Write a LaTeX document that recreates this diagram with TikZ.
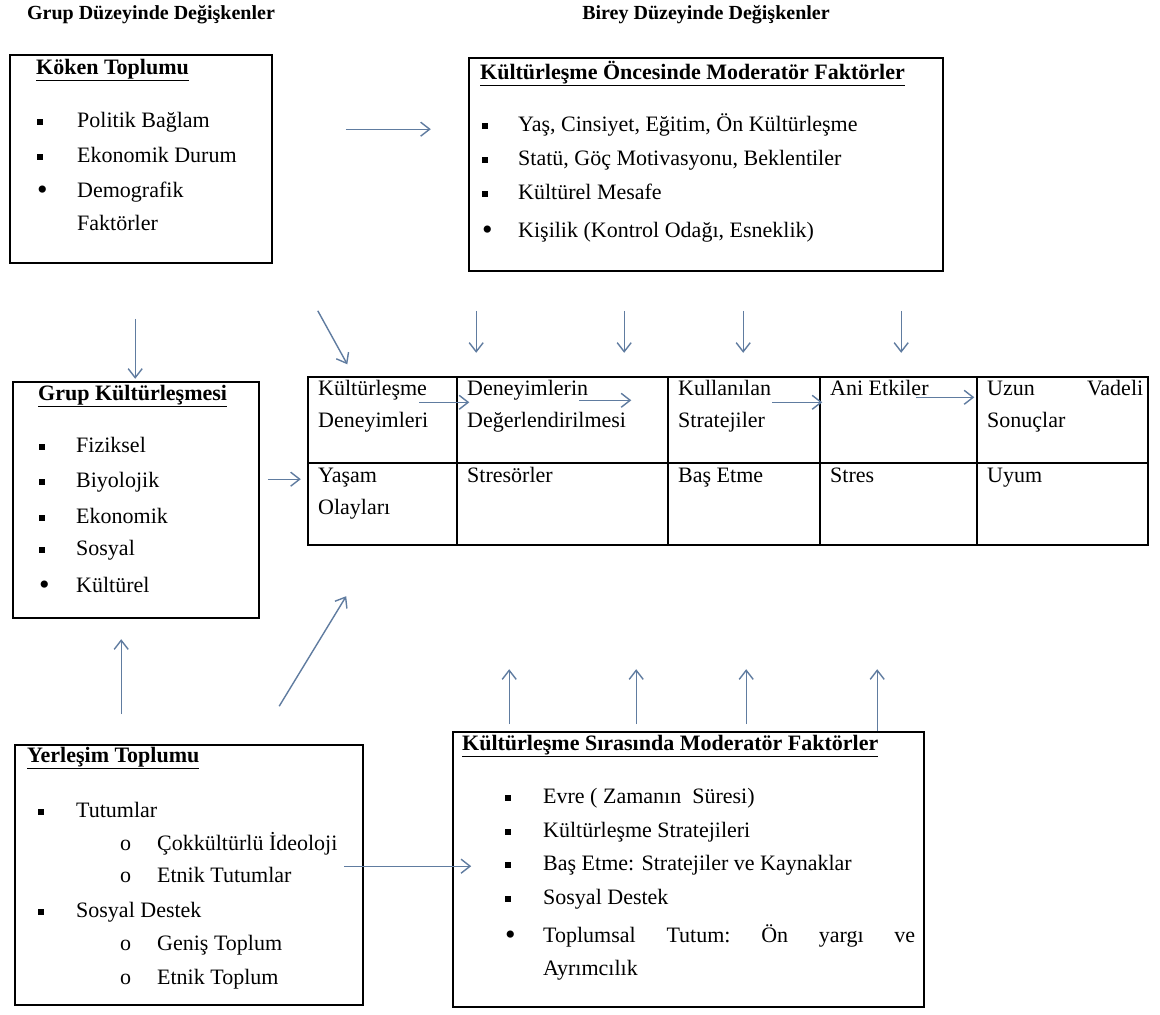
\documentclass[tikz,border=0pt]{standalone}
\usepackage{fontspec}
\setmainfont{Liberation Serif}
\usetikzlibrary{arrows.meta, positioning, calc, fit}
\definecolor{arrowblue}{RGB}{96,124,160}
\newcommand{\bodyfont}{\fontsize{22pt}{26pt}\selectfont}
\newcommand{\headfont}{\fontsize{20pt}{24pt}\selectfont}
\newcommand{\sqb}{\rule[2pt]{6pt}{6pt}}
\newcommand{\rdb}{\raisebox{-2.5pt}{\fontsize{30pt}{30pt}\selectfont •}}
\newcommand{\bl}[2]{\makebox[#1][l]{#2}}

\begin{document}
\begin{tikzpicture}[
        x=1pt, y=-1pt,
        frame/.style={draw, line width=1.6pt, inner sep=0pt},
        cell/.style={draw, line width=1.4pt, inner sep=0pt},
        head/.style={inner sep=0pt, font=\headfont\bfseries},
        title/.style={anchor=mid west, inner sep=0pt, yshift=-5pt, font=\bodyfont\bfseries},
        item/.style={anchor=mid west, inner sep=0pt, yshift=-5pt, font=\bodyfont},
        arr/.style={arrowblue, line width=1.4pt, -{Straight Barb[length=9pt, width=14pt]}}
    ]
        \fill[white] (0,0) rectangle (1160,1015);
        \useasboundingbox (0,0) rectangle (1160,1015);

        % column headings
        \node[head] (grupbaslik) at (151,15) {Grup Düzeyinde Değişkenler};
        \node[head] (bireybaslik) at (706,15) {Birey Düzeyinde Değişkenler};

        % Köken Toplumu
        \node[frame, fit={(10,55) (272,263)}] (koken) {};
        \node[title] (kokenad) at (36,67) {\underline{Köken Toplumu}};
        \node[item] (k1) at (37,120) {\bl{40pt}{\sqb}Politik Bağlam};
        \node[item] (k2) at (37,155) {\bl{40pt}{\sqb}Ekonomik Durum};
        \node[item] (k3) at (37,190) {\bl{40pt}{\rdb}Demografik};
        \node[item] (k4) at (77,223) {Faktörler};

        % Kültürleşme öncesi
        \node[frame, fit={(469,58) (943,271)}] (onc) {};
        \node[title] (oncad) at (480,72) {\underline{Kültürleşme Öncesinde Moderatör Faktörler}};
        \node[item] (o1) at (482,124) {\bl{36pt}{\sqb}Yaş, Cinsiyet, Eğitim, Ön Kültürleşme};
        \node[item] (o2) at (482,158) {\bl{36pt}{\sqb}Statü, Göç Motivasyonu, Beklentiler};
        \node[item] (o3) at (482,192) {\bl{36pt}{\sqb}Kültürel Mesafe};
        \node[item] (o4) at (482,230) {\bl{36pt}{\rdb}Kişilik (Kontrol Odağı, Esneklik)};

        % Grup Kültürleşmesi
        \node[frame, fit={(13,382) (259,618)}] (grup) {};
        \node[title] (grupad) at (38,393) {\underline{Grup Kültürleşmesi}};
        \node[item] (g1) at (39,445) {\bl{37pt}{\sqb}Fiziksel};
        \node[item] (g2) at (39,480) {\bl{37pt}{\sqb}Biyolojik};
        \node[item] (g3) at (39,516) {\bl{37pt}{\sqb}Ekonomik};
        \node[item] (g4) at (39,548) {\bl{37pt}{\sqb}Sosyal};
        \node[item] (g5) at (39,585) {\bl{37pt}{\rdb}Kültürel};

        % tablo
        \node[cell, fit={(308,377) (457,463)}] (c1) {};
        \node[cell, fit={(457,377) (668,463)}] (c2) {};
        \node[cell, fit={(668,377) (820,463)}] (c3) {};
        \node[cell, fit={(820,377) (977,463)}] (c4) {};
        \node[cell, fit={(977,377) (1148,463)}] (c5) {};
        \node[cell, fit={(308,463) (457,545)}] (d1) {};
        \node[cell, fit={(457,463) (668,545)}] (d2) {};
        \node[cell, fit={(668,463) (820,545)}] (d3) {};
        \node[cell, fit={(820,463) (977,545)}] (d4) {};
        \node[cell, fit={(977,463) (1148,545)}] (d5) {};
        \node[item] (t1a) at (318,388) {Kültürleşme};
        \node[item] (t1b) at (318,420) {Deneyimleri};
        \node[item] (t2a) at (467,388) {Deneyimlerin};
        \node[item] (t2b) at (467,420) {Değerlendirilmesi};
        \node[item] (t3a) at (678,388) {Kullanılan};
        \node[item] (t3b) at (678,420) {Stratejiler};
        \node[item] (t4a) at (830,388) {Ani Etkiler};
        \node[item] (t5a) at (987,388) {\makebox[156pt][l]{Uzun\hfill Vadeli}};
        \node[item] (t5b) at (987,420) {Sonuçlar};
        \node[item] (b1a) at (318,475) {Yaşam};
        \node[item] (b1b) at (318,507) {Olayları};
        \node[item] (b2a) at (467,475) {Stresörler};
        \node[item] (b3a) at (678,475) {Baş Etme};
        \node[item] (b4a) at (830,475) {Stres};
        \node[item] (b5a) at (987,475) {Uyum};

        % Yerleşim Toplumu
        \node[frame, fit={(15,745) (363,1005)}] (yer) {};
        \node[title] (yerad) at (27,755) {\underline{Yerleşim Toplumu}};
        \node[item] (y1) at (38,810) {\bl{38pt}{\sqb}Tutumlar};
        \node[item] (y2) at (120,843) {\bl{37pt}{o}Çokkültürlü İdeoloji};
        \node[item] (y3) at (120,875) {\bl{37pt}{o}Etnik Tutumlar};
        \node[item] (y4) at (38,910) {\bl{38pt}{\sqb}Sosyal Destek};
        \node[item] (y5) at (120,943) {\bl{37pt}{o}Geniş Toplum};
        \node[item] (y6) at (120,977) {\bl{37pt}{o}Etnik Toplum};

        % Kültürleşme sırasında
        \node[frame, fit={(453,732) (924,1007)}] (sira) {};
        \node[title] (siraad) at (462,743) {\underline{Kültürleşme Sırasında Moderatör Faktörler}};
        \node[item] (s1) at (505,796) {\bl{38pt}{\sqb}Evre ( Zamanın~~Süresi)};
        \node[item] (s2) at (505,830) {\bl{38pt}{\sqb}Kültürleşme Stratejileri};
        \node[item] (s3) at (505,863) {\bl{38pt}{\sqb}Baş Etme: Stratejiler ve Kaynaklar};
        \node[item] (s4) at (505,897) {\bl{38pt}{\sqb}Sosyal Destek};
        \node[item] (s5) at (505,935) {\bl{38pt}{\rdb}\makebox[372pt][l]{Toplumsal\hfill Tutum:\hfill Ön\hfill yargı\hfill ve}};
        \node[item] (s6) at (543,968) {Ayrımcılık};

        % oklar
        \draw[arr] ($(koken.north east)+(73,75)$) -- ++(85,0);
        \draw[arr] ($(koken.south west)+(126,55)$) -- ++(0,60);
        \draw[arr] ($(koken.south east)+(45,47)$) -- ($(c1.north west)+(40,-12)$);
        \draw[arr] ($(grup.north east)+(8,98)$) -- ++(33,0);
        \draw[arr] ($(onc.south west)+(8,39)$) -- ++(0,42);
        \draw[arr] ($(onc.south west)+(156,39)$) -- ++(0,42);
        \draw[arr] ($(onc.south west)+(275,39)$) -- ++(0,42);
        \draw[arr] ($(onc.south west)+(433,39)$) -- ++(0,42);
        \draw[arr] ($(c1.north west)+(112,26)$) -- ++(50,0);
        \draw[arr] ($(c2.north west)+(123,24)$) -- ++(52,0);
        \draw[arr] ($(c3.north west)+(105,26)$) -- ++(50,0);
        \draw[arr] ($(c4.north west)+(97,21)$) -- ++(58,0);
        \draw[arr] ($(sira.north west)+(57,-7)$) -- ++(0,-55);
        \draw[arr] ($(sira.north west)+(184,-7)$) -- ++(0,-55);
        \draw[arr] ($(sira.north west)+(294,-7)$) -- ++(0,-55);
        \draw[arr] ($(sira.north west)+(425,0)$) -- ++(0,-62);
        \draw[arr] ($(yer.north west)+(107,-30)$) -- ++(0,-75);
        \draw[arr] ($(yer.north west)+(265,-38)$) -- ++(67,-110);
        \draw[arr] ($(yer.north west)+(330,122)$) -- ++(127,0);
    \end{tikzpicture}
\end{document}
